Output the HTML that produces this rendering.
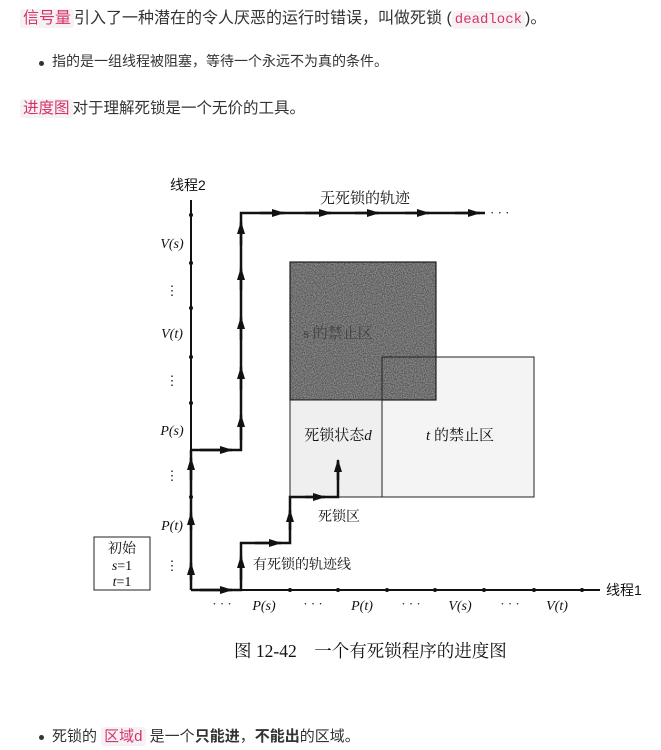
<!DOCTYPE html>
<html><head><meta charset="utf-8"><style>
html,body{margin:0;padding:0;background:#fff;width:661px;height:750px;overflow:hidden;position:relative;font-family:"Liberation Sans","Noto Sans CJK SC",sans-serif;color:#333}
.t{position:absolute;white-space:nowrap}
.c{background:#f6f2f3;color:#d6336c;border-radius:3px;padding:1px 3px}
.m{font-family:"Liberation Mono","Noto Sans CJK SC",monospace;font-size:14px}
.dot{position:absolute;width:5px;height:5px;border-radius:50%;background:#333}
</style></head><body>
<div class="t" style="left:20px;top:8px;font-size:16px;line-height:22px"><span class="c">信号量</span>引入了一种潜在的令人厌恶的运行时错误，叫做死锁 (<span class="c m">deadlock</span>)。</div>
<div class="dot" style="left:39px;top:61px"></div>
<div class="t" style="left:52px;top:51px;font-size:14px;line-height:20px">指的是一组线程被阻塞，等待一个永远不为真的条件。</div>
<div class="t" style="left:20px;top:98px;font-size:15.5px;line-height:22px"><span class="c">进度图</span>对于理解死锁是一个无价的工具。</div>
<div class="dot" style="left:39px;top:735px"></div>
<div class="t" style="left:52px;top:726px;font-size:15px;line-height:22px">死锁的 <span class="c">区域d</span> 是一个<b>只能进</b>，<b>不能出</b>的区域。</div>

<svg width="661" height="750" style="position:absolute;left:0;top:0" font-family="Liberation Serif,Noto Serif CJK SC,serif">
<defs>
<filter id="n"><feTurbulence type="fractalNoise" baseFrequency="0.9" numOctaves="1" seed="3"/><feColorMatrix values="0 0 0 0 0  0 0 0 0 0  0 0 0 0 0  0 0 0 -2.2 1.5"/><feComposite in2="SourceGraphic" operator="in"/></filter>
<marker id="a" markerWidth="13" markerHeight="10" refX="12" refY="5" orient="auto" markerUnits="userSpaceOnUse"><path d="M0,1 L13,5 L0,9z" fill="#111"/></marker>
</defs>
<rect x="290" y="357" width="244" height="140" fill="#f4f4f4" stroke="#222" stroke-width="1"/>
<rect x="290" y="262" width="146" height="138" fill="#8a8a8a" stroke="#222" stroke-width="1.2"/>
<rect x="290" y="262" width="146" height="138" fill="#000" filter="url(#n)" opacity="0.45"/>
<rect x="290" y="400" width="92" height="97" fill="#efefef" stroke="#222"/>
<line x1="382" y1="357" x2="382" y2="497" stroke="#222"/>
<line x1="382" y1="357" x2="436" y2="357" stroke="#222"/>
<text x="338" y="338" font-size="15" fill="#444" text-anchor="middle">s 的禁止区</text>
<text x="338" y="440" font-size="15" fill="#111" text-anchor="middle">死锁状态<tspan font-style="italic">d</tspan></text>
<text x="460" y="440" font-size="15" fill="#111" text-anchor="middle"><tspan font-style="italic">t</tspan> 的禁止区</text>
<g stroke="#111" stroke-width="2" fill="none">
<line x1="191" y1="200" x2="191" y2="590"/>
<line x1="191" y1="590" x2="600" y2="590"/>
</g>
<g fill="#111">
<circle cx="191" cy="215" r="2"/><circle cx="191" cy="263" r="2"/><circle cx="191" cy="308" r="2"/><circle cx="191" cy="357" r="2"/><circle cx="191" cy="403" r="2"/><circle cx="191" cy="497" r="2"/>
<circle cx="290" cy="590" r="2"/><circle cx="338" cy="590" r="2"/><circle cx="387" cy="590" r="2"/><circle cx="435" cy="590" r="2"/><circle cx="484" cy="590" r="2"/><circle cx="534" cy="590" r="2"/><circle cx="582" cy="590" r="2"/>
</g>
<g stroke="#111" stroke-width="2.5" fill="none">
<path d="M191,450 H241 V213 H485"/>
<path d="M191,590 H241 V543 H290 V497 H338 V462"/>
<path d="M191,590 V450"/>
</g>
<g stroke="#111" stroke-width="2.5" marker-end="url(#a)">
<line x1="200" y1="450" x2="232" y2="450"/>
<line x1="241" y1="440" x2="241" y2="415"/><line x1="241" y1="390" x2="241" y2="367"/><line x1="241" y1="340" x2="241" y2="317"/><line x1="241" y1="290" x2="241" y2="268"/><line x1="241" y1="245" x2="241" y2="222"/>
<line x1="260" y1="213" x2="284" y2="213"/><line x1="305" y1="213" x2="331" y2="213"/><line x1="355" y1="213" x2="379" y2="213"/><line x1="405" y1="213" x2="429" y2="213"/><line x1="455" y1="213" x2="480" y2="213"/>
<line x1="200" y1="590" x2="232" y2="590"/>
<line x1="241" y1="580" x2="241" y2="556"/>
<line x1="255" y1="543" x2="281" y2="543"/>
<line x1="290" y1="530" x2="290" y2="510"/>
<line x1="305" y1="497" x2="325" y2="497"/>
<line x1="338" y1="480" x2="338" y2="460"/>
<line x1="191" y1="580" x2="191" y2="563"/><line x1="191" y1="530" x2="191" y2="513"/><line x1="191" y1="480" x2="191" y2="458"/>
</g>
<text x="490" y="217" font-size="13" fill="#111">· · ·</text>
<g font-size="15" fill="#111">
<text x="170" y="190" font-family="Liberation Sans,Noto Sans CJK SC,sans-serif" font-size="14">线程2</text>
<text x="320" y="203">无死锁的轨迹</text>
<text x="606" y="595" font-family="Liberation Sans,Noto Sans CJK SC,sans-serif" font-size="14">线程1</text>
<text x="318" y="521" font-size="14">死锁区</text>
<text x="253" y="569" font-size="14">有死锁的轨迹线</text>
</g>
<g font-size="14" fill="#111" font-style="italic" text-anchor="middle">
<text x="172" y="248">V(s)</text><text x="172" y="338">V(t)</text><text x="172" y="435">P(s)</text><text x="172" y="530">P(t)</text>
<text x="264" y="610">P(s)</text><text x="362" y="610">P(t)</text><text x="460" y="610">V(s)</text><text x="557" y="610">V(t)</text>
</g>
<g font-size="13" fill="#111" text-anchor="middle">
<text x="172" y="295">⋮</text><text x="172" y="385">⋮</text><text x="172" y="480">⋮</text><text x="172" y="570">⋮</text>
<text x="222" y="608">· · ·</text><text x="313" y="608">· · ·</text><text x="411" y="608">· · ·</text><text x="510" y="608">· · ·</text>
</g>
<rect x="94" y="537" width="56" height="53" fill="#fff" stroke="#222" stroke-width="1"/>
<g font-size="14" fill="#111" text-anchor="middle">
<text x="122" y="553">初始</text>
<text x="122" y="570"><tspan font-style="italic">s</tspan>=1</text>
<text x="122" y="586"><tspan font-style="italic">t</tspan>=1</text>
</g>
<text x="234" y="657" font-size="17.5" fill="#111">图 12-42　一个有死锁程序的进度图</text>
</svg>
</body></html>
